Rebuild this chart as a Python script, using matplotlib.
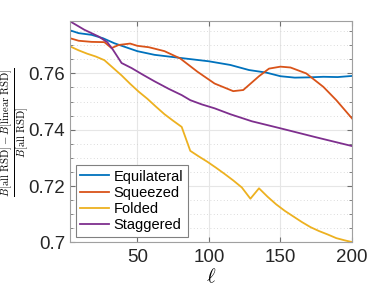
import matplotlib
matplotlib.use("Agg")
import matplotlib.pyplot as plt
from matplotlib.ticker import MultipleLocator

plt.rcParams['font.family'] = ['Liberation Sans', 'DejaVu Sans']
plt.rcParams['mathtext.fontset'] = 'cm'

# values
ell_equi = [3, 9, 18, 26, 34, 42, 50, 62, 80, 100, 115, 128, 140, 150, 160, 170, 180, 190, 200]
equi = [0.7753, 0.7743, 0.7737, 0.7725, 0.7707, 0.7693, 0.7679, 0.7666, 0.7655, 0.7643,
        0.7630, 0.7612, 0.7603, 0.7590, 0.7585, 0.7586, 0.7588, 0.7587, 0.7591]

ell_sq = [3, 9, 18, 27, 32, 37, 45, 50, 58, 62, 69, 80, 92, 104, 117, 124, 135, 142,
          150, 157, 168, 180, 189, 200]
sq = [0.7725, 0.7716, 0.7712, 0.7711, 0.7690, 0.7701, 0.7706, 0.7698, 0.7693, 0.7688,
      0.7679, 0.7653, 0.7606, 0.7564, 0.7537, 0.7541, 0.7590, 0.7617, 0.7624, 0.7621,
      0.7600, 0.7552, 0.7505, 0.7440]

ell_fold = [3, 9, 15, 21, 27, 33, 39, 45, 51, 57, 63, 69, 75, 81, 87, 93, 99, 105, 111,
            117, 123, 129, 135, 141, 147, 153, 159, 165, 171, 177, 183, 189, 195, 200]
fold = [0.7696, 0.7682, 0.7670, 0.7660, 0.7647, 0.7620, 0.7593, 0.7563, 0.7535, 0.7510,
        0.7482, 0.7455, 0.7432, 0.7410, 0.7325, 0.7305, 0.7286, 0.7265, 0.7243, 0.7220,
        0.7195, 0.7155, 0.7192, 0.7162, 0.7135, 0.7112, 0.7092, 0.7072, 0.7054, 0.7040,
        0.7028, 0.7015, 0.7007, 0.7001]

ell_stag = [3, 13, 23, 29, 33, 39, 46, 54, 62, 72, 81, 87, 95, 104, 115, 130, 150, 175, 200]
stag = [0.7785, 0.7755, 0.7731, 0.7711, 0.7684, 0.7637, 0.7619, 0.7595, 0.7572, 0.7545,
        0.7523, 0.7505, 0.7490, 0.7476, 0.7455, 0.7430, 0.7405, 0.7373, 0.7342]

xticks = [50, 100, 150, 200]
yticks = [0.70, 0.72, 0.74, 0.76]
ytick_labels = ['0.7', '0.72', '0.74', '0.76']

fig = plt.figure(figsize=(3.89, 2.92), dpi=100)
ax = fig.add_axes([0.18, 0.17, 0.725, 0.757])

ax.plot(ell_equi, equi, color='#0072BD', lw=1.3, label='Equilateral')
ax.plot(ell_sq, sq, color='#D95319', lw=1.3, label='Squeezed')
ax.plot(ell_fold, fold, color='#EDB120', lw=1.3, label='Folded')
ax.plot(ell_stag, stag, color='#7E2F8E', lw=1.3, label='Staggered')

ax.set_xlim(3, 200)
ax.set_ylim(0.70, 0.7785)
ax.set_xticks(xticks)
ax.set_yticks(yticks)
ax.set_yticklabels(ytick_labels)
ax.yaxis.set_minor_locator(MultipleLocator(0.005))

ax.grid(which='major', color='#e6e6e6', lw=0.8)
ax.grid(which='minor', axis='y', color='#d0d0d0', lw=0.6, linestyle=(0, (1, 3)))
ax.set_axisbelow(True)

for s in ax.spines.values():
    s.set_color('#a0a0a0')
    s.set_linewidth(0.8)
ax.tick_params(which='both', direction='in', top=True, right=True, color='#707070',
               labelsize=13.5, labelcolor='#262626')
ax.tick_params(which='major', length=3.5)
ax.tick_params(which='minor', length=2)
ax.tick_params(axis='x', pad=5)

ax.set_xlabel(r'$\ell$', fontsize=15, labelpad=1)
ax.set_ylabel(r'$\frac{B[\mathrm{all\ RSD}]-B[\mathrm{linear\ RSD}]}{B[\mathrm{all\ RSD}]}$',
              fontsize=11)
ax.yaxis.set_label_coords(-0.138, 0.5)

leg = ax.legend(loc='lower left', fontsize=10.5, handlelength=2.0, handletextpad=0.3,
                borderaxespad=0.4, labelspacing=0.15, borderpad=0.3, fancybox=False,
                edgecolor='#808080', framealpha=1)
leg.get_frame().set_linewidth(0.8)

fig.savefig('out.png', dpi=100)
